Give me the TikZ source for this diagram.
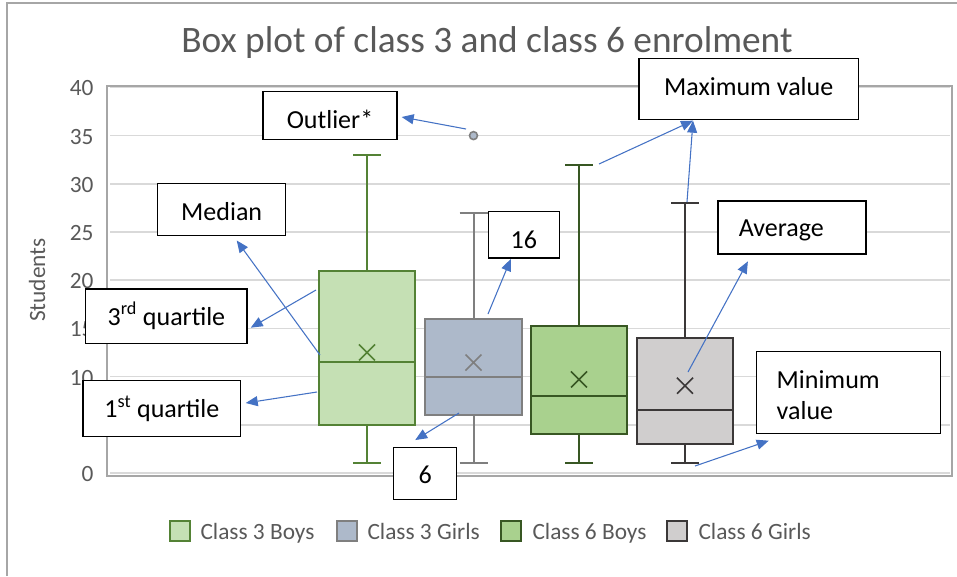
\documentclass[tikz,border=0pt]{standalone}
\usepackage{fontspec}
\setmainfont{Carlito}
\usetikzlibrary{arrows.meta,calc}

\definecolor{frameGray}{HTML}{A6A6A6}
\definecolor{gridGray}{HTML}{D9D9D9}
\definecolor{labelGray}{HTML}{595959}
\definecolor{arrowBlue}{HTML}{4472C4}
\definecolor{boysThreeFill}{HTML}{C5E0B4}
\definecolor{boysThreeLine}{HTML}{548235}
\definecolor{girlsThreeFill}{HTML}{ADB9CA}
\definecolor{girlsThreeLine}{HTML}{7F7F7F}
\definecolor{boysSixFill}{HTML}{A9D18E}
\definecolor{boysSixLine}{HTML}{385723}
\definecolor{girlsSixFill}{HTML}{D0CECE}
\definecolor{girlsSixLine}{HTML}{3B3838}

\tikzset{every picture/.style={line width=0.75pt},
  gridline/.style={draw=gridGray, line width=1.2pt},
  ticklabel/.style={text=labelGray, anchor=east, inner sep=0pt, font=\fontsize{17.5}{20}\selectfont},
  legendtext/.style={text=labelGray, anchor=base west, inner sep=0pt, font=\fontsize{17.5}{20}\selectfont},
  callout/.style={draw=black, fill=white, line width=1pt, inner sep=0pt, font=\fontsize{19.5}{23.25}\selectfont},
  textlift/.style={text height=#1, text depth=0pt},
  callarrow/.style={draw=arrowBlue, line width=0.8pt, -{Triangle[length=9pt,width=7.5pt]}},
  boxline/.style={line width=1.5pt}
}

\begin{document}
\begin{tikzpicture}[x=0.75pt,y=0.75pt,yscale=-1,xscale=1]
\useasboundingbox (0,0) rectangle (957,576);

%Chart frame
\draw [draw=frameGray, line width=1.5pt]  (7,576) -- (7,3) -- (957,3) ;

% Text Node
\node (title) [text=labelGray, anchor=base, inner sep=0pt, font=\fontsize{28}{32}\selectfont] at (487,52) {Box plot of class 3 and class 6 enrolment};

%Plot area
\draw [draw=frameGray, line width=1.5pt]  (107,86) rectangle (952,476) ;
\foreach \v in {0,5,...,40}
  \draw [gridline]  (110,{473-9.64*\v}) -- (950,{473-9.64*\v}) ;
\foreach \v in {0,5,...,40}
  \node (tick\v) [ticklabel] at (94,{474-9.64*\v}) {\v};

% Text Node
\node (ytitle) [text=labelGray, inner sep=0pt, rotate=90, font=\fontsize{17.5}{20}\selectfont] at (37,280) {Students};

%Class 3 Boys
\draw [boysThreeLine, boxline]  (367,424.8) -- (367,463.4) (353,463.4) -- (381,463.4) ;
\draw [boysThreeLine, boxline]  (367,270.6) -- (367,154.9) (353,154.9) -- (381,154.9) ;
\draw [boysThreeLine, fill=boysThreeFill, boxline]  (319,270.6) rectangle (415,424.8) ;
\draw [boysThreeLine, boxline]  (319,362.1) -- (415,362.1) ;
\draw [boysThreeLine, line width=1.2pt]  (359,344.4) -- (375,360.4) (359,360.4) -- (375,344.4) ;

%Class 3 Girls
\draw [girlsThreeLine, boxline]  (473.5,415.2) -- (473.5,463.4) (459.5,463.4) -- (487.5,463.4) ;
\draw [girlsThreeLine, boxline]  (473.5,318.8) -- (473.5,212.7) (459.5,212.7) -- (487.5,212.7) ;
\draw [girlsThreeLine, fill=girlsThreeFill, boxline]  (425,318.8) rectangle (522,415.2) ;
\draw [girlsThreeLine, boxline]  (425,376.6) -- (522,376.6) ;
\draw [girlsThreeLine, line width=1.2pt]  (465.5,354.5) -- (481.5,370.5) (465.5,370.5) -- (481.5,354.5) ;
\draw [girlsThreeLine, fill=girlsThreeFill, line width=1.2pt]  (473.5,135.6) circle (4) ;

%Class 6 Boys
\draw [boysSixLine, boxline]  (579,434.4) -- (579,463.4) (565,463.4) -- (593,463.4) ;
\draw [boysSixLine, boxline]  (579,325.5) -- (579,164.5) (565,164.5) -- (593,164.5) ;
\draw [boysSixLine, fill=boysSixFill, boxline]  (531,325.5) rectangle (627,434.4) ;
\draw [boysSixLine, boxline]  (531,395.9) -- (627,395.9) ;
\draw [boysSixLine, line width=1.2pt]  (571,371.4) -- (587,387.4) (571,387.4) -- (587,371.4) ;

%Class 6 Girls
\draw [girlsSixLine, boxline]  (685,444.1) -- (685,463.4) (671,463.4) -- (699,463.4) ;
\draw [girlsSixLine, boxline]  (685,338.2) -- (685,203.1) (671,203.1) -- (699,203.1) ;
\draw [girlsSixLine, fill=girlsSixFill, boxline]  (637,338.2) rectangle (733,444.1) ;
\draw [girlsSixLine, boxline]  (637,410.2) -- (733,410.2) ;
\draw [girlsSixLine, line width=1.2pt]  (677,377.7) -- (693,393.7) (677,393.7) -- (693,377.7) ;

%Legend
\draw [boysThreeLine, fill=boysThreeFill, boxline]  (170,520.7) rectangle (190,540.7) ;
\node (leg1) [legendtext] at (200,539) {Class 3 Boys};
\draw [girlsThreeLine, fill=girlsThreeFill, boxline]  (336.7,520.7) rectangle (356.7,540.7) ;
\node (leg2) [legendtext] at (367,539) {Class 3 Girls};
\draw [boysSixLine, fill=boysSixFill, boxline]  (501,520.7) rectangle (521,540.7) ;
\node (leg3) [legendtext] at (532,539) {Class 6 Boys};
\draw [girlsSixLine, fill=girlsSixFill, boxline]  (667,520.7) rectangle (687,540.7) ;
\node (leg4) [legendtext] at (698,539) {Class 6 Girls};

%Callouts
\node (outlier) [callout, textlift=19.2pt, minimum width=100.5pt, minimum height=35.7pt] at (330,115.5) {Outlier*};
\node (median) [callout, textlift=15.8pt, minimum width=96pt, minimum height=38.7pt] at (221.7,209.5) {Median};
\node (maxval) [callout, textlift=9.4pt, minimum width=164.5pt, minimum height=45.75pt] at (748.7,88.8) {Maximum value};
\node (sixteen) [callout, textlift=20pt, minimum width=53.25pt, minimum height=34.7pt] at (523.8,234.9) {16};
\node (average) [callout, textlift=13.8pt, align=left, text width=79.5pt, inner xsep=15.75pt, minimum height=39.75pt] at (791.9,227.5) {Average};
\node (thirdq) [callout, textlift=13.2pt, minimum width=121pt, minimum height=40.7pt] at (166.4,316.2) {3\textsuperscript{rd} quartile};
\node (firstq) [callout, textlift=13pt, minimum width=118.3pt, minimum height=42pt] at (161.9,408.7) {1\textsuperscript{st} quartile};
\node (six) [callout, textlift=14.8pt, minimum width=47.25pt, minimum height=38.7pt] at (425.2,473.5) {6};
\node (minval) [callout, text height=16.95pt, text depth=23.25pt, align=left, text width=108pt, inner xsep=15pt, minimum height=61.2pt] at (848.7,392.5) {Minimum\\value};

%Arrow start points
\coordinate (outpt) at (466,129);
\coordinate (medpt) at (320,355);
\coordinate (q3pt) at (316,290);
\coordinate (q1pt) at (317,392);
\coordinate (sixpt) at (459,413);
\coordinate (sixteenpt) at (488,314);
\coordinate (maxpta) at (599,164);
\coordinate (maxptb) at (687,202);
\coordinate (avgpt) at (688,372);
\coordinate (minpt) at (695,466);

%Arrows
\draw [callarrow]  (outpt) -- ($(outlier.east)+(4,1.5)$) ;
\draw [callarrow]  (medpt) -- ($(median.south)+(15,4.5)$) ;
\draw [callarrow]  (q3pt) -- ($(thirdq.east)+(3,11.5)$) ;
\draw [callarrow]  (q1pt) -- ($(firstq.east)+(4.3,-5.7)$) ;
\draw [callarrow]  (sixpt) -- ($(six.north)+(-10,-7)$) ;
\draw [callarrow]  (sixteenpt) -- ($(sixteen.south)+(-13,0.3)$) ;
\draw [callarrow]  (maxpta) -- ($(maxval.south)+(-55.7,0.7)$) ;
\draw [callarrow]  (maxptb) -- ($(maxval.south)+(-55.7,0.7)$) ;
\draw [callarrow]  (avgpt) -- ($(average.south)+(-44,6.7)$) ;
\draw [callarrow]  (minpt) -- ($(minval.south)+(-80,6.7)$) ;

\end{tikzpicture}
\end{document}
